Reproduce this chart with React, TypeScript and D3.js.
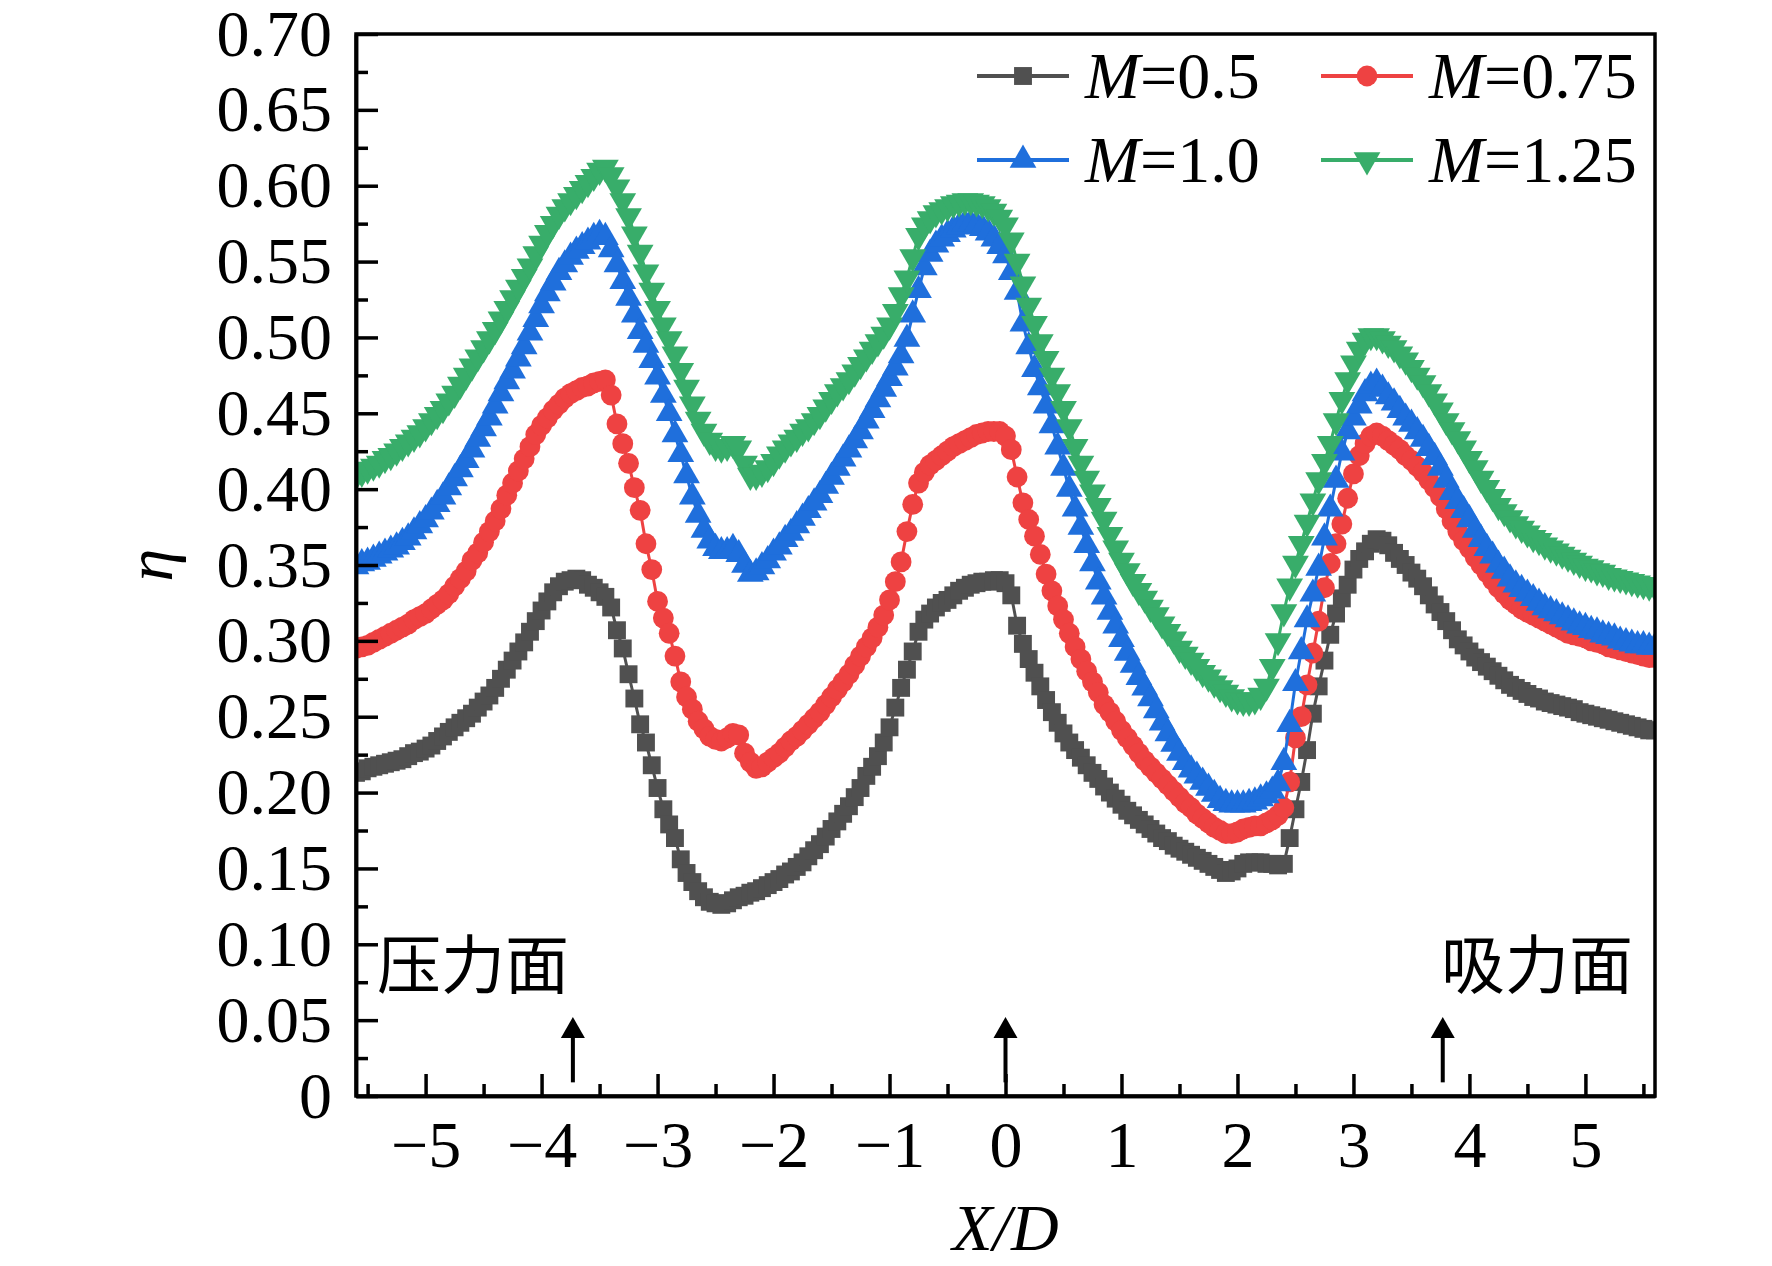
import { useEffect, useRef } from "react";
import * as d3 from "d3";

// X/D stations (one every 0.05)
const xPositions = [
  -5.6, -5.55, -5.5, -5.45, -5.4, -5.35, -5.3, -5.25, -5.2, -5.15,
  -5.1, -5.05, -5, -4.95, -4.9, -4.85, -4.8, -4.75, -4.7, -4.65,
  -4.6, -4.55, -4.5, -4.45, -4.4, -4.35, -4.3, -4.25, -4.2, -4.15,
  -4.1, -4.05, -4, -3.95, -3.9, -3.85, -3.8, -3.75, -3.7, -3.65,
  -3.6, -3.55, -3.5, -3.45, -3.4, -3.35, -3.3, -3.25, -3.2, -3.15,
  -3.1, -3.05, -3, -2.95, -2.9, -2.85, -2.8, -2.75, -2.7, -2.65,
  -2.6, -2.55, -2.5, -2.45, -2.4, -2.35, -2.3, -2.25, -2.2, -2.15,
  -2.1, -2.05, -2, -1.95, -1.9, -1.85, -1.8, -1.75, -1.7, -1.65,
  -1.6, -1.55, -1.5, -1.45, -1.4, -1.35, -1.3, -1.25, -1.2, -1.15,
  -1.1, -1.05, -1, -0.95, -0.9, -0.85, -0.8, -0.75, -0.7, -0.65,
  -0.6, -0.55, -0.5, -0.45, -0.4, -0.35, -0.3, -0.25, -0.2, -0.15,
  -0.1, -0.05, 0, 0.05, 0.1, 0.15, 0.2, 0.25, 0.3, 0.35,
  0.4, 0.45, 0.5, 0.55, 0.6, 0.65, 0.7, 0.75, 0.8, 0.85,
  0.9, 0.95, 1, 1.05, 1.1, 1.15, 1.2, 1.25, 1.3, 1.35,
  1.4, 1.45, 1.5, 1.55, 1.6, 1.65, 1.7, 1.75, 1.8, 1.85,
  1.9, 1.95, 2, 2.05, 2.1, 2.15, 2.2, 2.25, 2.3, 2.35,
  2.4, 2.45, 2.5, 2.55, 2.6, 2.65, 2.7, 2.75, 2.8, 2.85,
  2.9, 2.95, 3, 3.05, 3.1, 3.15, 3.2, 3.25, 3.3, 3.35,
  3.4, 3.45, 3.5, 3.55, 3.6, 3.65, 3.7, 3.75, 3.8, 3.85,
  3.9, 3.95, 4, 4.05, 4.1, 4.15, 4.2, 4.25, 4.3, 4.35,
  4.4, 4.45, 4.5, 4.55, 4.6, 4.65, 4.7, 4.75, 4.8, 4.85,
  4.9, 4.95, 5, 5.05, 5.1, 5.15, 5.2, 5.25, 5.3, 5.35,
  5.4, 5.45, 5.5, 5.55, 5.6,
];

const etaM050 = [
  0.213, 0.214, 0.216, 0.217, 0.218, 0.219, 0.22, 0.221, 0.222, 0.224,
  0.226, 0.227, 0.229, 0.231, 0.234, 0.237, 0.24, 0.243, 0.246, 0.249,
  0.252, 0.256, 0.26, 0.264, 0.269, 0.275, 0.281, 0.287, 0.293, 0.299,
  0.306, 0.313, 0.32, 0.326, 0.332, 0.336, 0.339, 0.34, 0.341, 0.34,
  0.337, 0.335, 0.332, 0.329, 0.322, 0.307, 0.295, 0.278, 0.262, 0.245,
  0.233, 0.218, 0.203, 0.189, 0.179, 0.17, 0.156, 0.147, 0.141, 0.135,
  0.131, 0.128, 0.127, 0.126, 0.127, 0.129, 0.131, 0.132, 0.134, 0.135,
  0.137, 0.139, 0.141, 0.143, 0.146, 0.148, 0.151, 0.154, 0.158, 0.162,
  0.166, 0.171, 0.176, 0.181, 0.186, 0.191, 0.197, 0.203, 0.211, 0.217,
  0.224, 0.233, 0.243, 0.256, 0.269, 0.281, 0.293, 0.306, 0.314, 0.318,
  0.322, 0.325, 0.327, 0.33, 0.333, 0.335, 0.337, 0.338, 0.339, 0.339,
  0.34, 0.34, 0.338, 0.33, 0.31, 0.298, 0.288, 0.279, 0.27, 0.261,
  0.253, 0.246, 0.239, 0.233, 0.228, 0.223, 0.218, 0.213, 0.209, 0.204,
  0.2, 0.196, 0.192, 0.188, 0.185, 0.182, 0.179, 0.176, 0.173, 0.17,
  0.168, 0.165, 0.163, 0.161, 0.159, 0.157, 0.155, 0.153, 0.151, 0.149,
  0.147, 0.148, 0.15, 0.153, 0.154, 0.154, 0.154, 0.153, 0.153, 0.152,
  0.153, 0.17, 0.189, 0.207, 0.228, 0.252, 0.27, 0.287, 0.304, 0.318,
  0.328, 0.337, 0.347, 0.354, 0.359, 0.364, 0.367, 0.366, 0.363, 0.358,
  0.354, 0.35, 0.345, 0.341, 0.336, 0.33, 0.324, 0.319, 0.313, 0.307,
  0.301, 0.297, 0.293, 0.289, 0.286, 0.283, 0.28, 0.277, 0.274, 0.271,
  0.269, 0.267, 0.265, 0.263, 0.262, 0.26, 0.259, 0.258, 0.257, 0.256,
  0.255, 0.253, 0.252, 0.251, 0.25, 0.249, 0.248, 0.247, 0.246, 0.245,
  0.244, 0.243, 0.242, 0.241, 0.241,
];

const etaM075 = [
  0.295, 0.296, 0.297, 0.299, 0.301, 0.303, 0.305, 0.307, 0.309, 0.311,
  0.314, 0.316, 0.318, 0.321, 0.324, 0.327, 0.331, 0.336, 0.341, 0.346,
  0.353, 0.358, 0.365, 0.372, 0.379, 0.387, 0.396, 0.404, 0.412, 0.42,
  0.428, 0.436, 0.442, 0.447, 0.452, 0.456, 0.46, 0.463, 0.465, 0.467,
  0.468, 0.47, 0.471, 0.472, 0.462, 0.443, 0.43, 0.417, 0.401, 0.386,
  0.364, 0.347, 0.326, 0.315, 0.305, 0.29, 0.273, 0.263, 0.255, 0.247,
  0.242, 0.237, 0.235, 0.234, 0.236, 0.239, 0.238, 0.226, 0.22, 0.216,
  0.217, 0.22, 0.223, 0.226, 0.23, 0.234, 0.237, 0.241, 0.245, 0.249,
  0.253, 0.258, 0.263, 0.268, 0.273, 0.278, 0.284, 0.29, 0.296, 0.302,
  0.309, 0.317, 0.327, 0.339, 0.352, 0.372, 0.39, 0.404, 0.411, 0.416,
  0.419, 0.422, 0.425, 0.428, 0.43, 0.432, 0.434, 0.436, 0.437, 0.438,
  0.438, 0.438, 0.435, 0.426, 0.408, 0.391, 0.38, 0.369, 0.357, 0.344,
  0.333, 0.323, 0.314, 0.305, 0.296, 0.288, 0.28, 0.273, 0.266, 0.258,
  0.253, 0.247, 0.241, 0.236, 0.231, 0.226, 0.221, 0.217, 0.213, 0.209,
  0.205, 0.201, 0.197, 0.193, 0.19, 0.186, 0.183, 0.18, 0.177, 0.175,
  0.173, 0.173, 0.174, 0.176, 0.177, 0.178, 0.178, 0.18, 0.182, 0.185,
  0.19, 0.207, 0.236, 0.25, 0.271, 0.292, 0.313, 0.335, 0.351, 0.364,
  0.377, 0.394, 0.41, 0.422, 0.43, 0.435, 0.437, 0.435, 0.432, 0.429,
  0.426, 0.422, 0.419, 0.415, 0.411, 0.406, 0.401, 0.395, 0.387, 0.379,
  0.372, 0.366, 0.361, 0.355, 0.35, 0.345, 0.34, 0.335, 0.331, 0.327,
  0.324, 0.321, 0.319, 0.317, 0.315, 0.313, 0.311, 0.309, 0.307, 0.305,
  0.304, 0.303, 0.302, 0.3, 0.299, 0.298, 0.296, 0.295, 0.294, 0.293,
  0.292, 0.291, 0.29, 0.289, 0.289,
];

const etaM100 = [
  0.349, 0.351, 0.352, 0.354, 0.356, 0.358, 0.36, 0.362, 0.365, 0.368,
  0.372, 0.376, 0.38, 0.385, 0.39, 0.395, 0.401, 0.407, 0.413, 0.419,
  0.426, 0.433, 0.44, 0.447, 0.455, 0.463, 0.471, 0.478, 0.486, 0.494,
  0.503, 0.512, 0.521, 0.529, 0.536, 0.543, 0.548, 0.553, 0.557, 0.56,
  0.563, 0.566, 0.568, 0.566, 0.558, 0.548, 0.537, 0.526, 0.515, 0.504,
  0.495, 0.485, 0.474, 0.462, 0.45, 0.436, 0.423, 0.409, 0.395, 0.383,
  0.373, 0.366, 0.361, 0.359, 0.359, 0.361, 0.357, 0.35, 0.344, 0.345,
  0.349, 0.353, 0.358, 0.362, 0.367, 0.371, 0.376, 0.381, 0.386, 0.391,
  0.396, 0.402, 0.408, 0.414, 0.42, 0.426, 0.432, 0.438, 0.445, 0.452,
  0.459, 0.466, 0.473, 0.48, 0.488, 0.499, 0.515, 0.531, 0.546, 0.555,
  0.561, 0.565, 0.568, 0.571, 0.573, 0.575, 0.575, 0.574, 0.572, 0.569,
  0.565, 0.56, 0.554, 0.543, 0.53, 0.509, 0.494, 0.479, 0.467, 0.455,
  0.442, 0.428, 0.414, 0.4, 0.387, 0.375, 0.363, 0.351, 0.339, 0.329,
  0.319, 0.31, 0.301, 0.292, 0.284, 0.276, 0.269, 0.262, 0.254, 0.246,
  0.239, 0.232, 0.226, 0.22, 0.215, 0.211, 0.207, 0.203, 0.199, 0.195,
  0.193, 0.192, 0.192, 0.192, 0.193, 0.194, 0.196, 0.198, 0.201, 0.206,
  0.22, 0.245, 0.272, 0.293, 0.314, 0.331, 0.348, 0.368, 0.387, 0.406,
  0.424, 0.438, 0.447, 0.455, 0.463, 0.468, 0.47, 0.466, 0.461, 0.457,
  0.452, 0.447, 0.443, 0.438, 0.433, 0.427, 0.421, 0.414, 0.406, 0.398,
  0.392, 0.386, 0.38, 0.373, 0.367, 0.361, 0.356, 0.35, 0.346, 0.341,
  0.337, 0.334, 0.331, 0.328, 0.325, 0.322, 0.32, 0.318, 0.316, 0.314,
  0.312, 0.31, 0.309, 0.307, 0.306, 0.304, 0.303, 0.302, 0.3, 0.299,
  0.298, 0.297, 0.297, 0.296, 0.296,
];

const etaM125 = [
  0.409, 0.411, 0.413, 0.415, 0.417, 0.42, 0.422, 0.425, 0.428, 0.431,
  0.434, 0.437, 0.441, 0.445, 0.449, 0.453, 0.458, 0.463, 0.469, 0.475,
  0.481, 0.487, 0.493, 0.499, 0.505, 0.512, 0.519, 0.526, 0.533, 0.54,
  0.547, 0.555, 0.562, 0.569, 0.575, 0.581, 0.586, 0.59, 0.594, 0.598,
  0.602, 0.606, 0.61, 0.612, 0.607, 0.599, 0.59, 0.58, 0.568, 0.556,
  0.543, 0.531, 0.519, 0.508, 0.499, 0.489, 0.478, 0.467, 0.456, 0.446,
  0.438, 0.432, 0.428, 0.427, 0.428, 0.43, 0.427, 0.417, 0.409, 0.409,
  0.411, 0.414, 0.418, 0.423, 0.427, 0.431, 0.434, 0.438, 0.441, 0.445,
  0.449, 0.454, 0.459, 0.464, 0.468, 0.472, 0.477, 0.482, 0.487, 0.492,
  0.497, 0.502, 0.508, 0.517, 0.528, 0.539, 0.553, 0.567, 0.574, 0.578,
  0.582, 0.584, 0.586, 0.588, 0.589, 0.59, 0.59, 0.589, 0.588, 0.586,
  0.583, 0.579, 0.574, 0.564, 0.55, 0.535, 0.521, 0.509, 0.497, 0.486,
  0.475, 0.464, 0.453, 0.441, 0.428, 0.417, 0.407, 0.398, 0.389, 0.38,
  0.37, 0.361, 0.353, 0.346, 0.339, 0.333, 0.328, 0.322, 0.317, 0.311,
  0.306, 0.301, 0.295, 0.291, 0.287, 0.283, 0.279, 0.276, 0.272, 0.269,
  0.266, 0.263, 0.261, 0.26, 0.26, 0.261, 0.264, 0.27, 0.283, 0.3,
  0.319, 0.336, 0.351, 0.364, 0.378, 0.392, 0.406, 0.418, 0.43, 0.445,
  0.459, 0.472, 0.483, 0.492, 0.498, 0.501, 0.501, 0.499, 0.496, 0.493,
  0.489, 0.485, 0.48, 0.475, 0.47, 0.464, 0.458, 0.452, 0.445, 0.439,
  0.433, 0.427, 0.42, 0.414, 0.407, 0.401, 0.395, 0.389, 0.385, 0.381,
  0.377, 0.374, 0.371, 0.368, 0.366, 0.363, 0.361, 0.359, 0.357, 0.355,
  0.353, 0.351, 0.349, 0.348, 0.346, 0.345, 0.343, 0.342, 0.341, 0.34,
  0.339, 0.338, 0.337, 0.336, 0.336,
];

const blowingRatios = ["0.5", "0.75", "1.0", "1.25"];
const seriesColors = ["#505050", "#ee4242", "#1f6fdc", "#38ad6a"];
const xTicks = [-5, -4, -3, -2, -1, 0, 1, 2, 3, 4, 5];
const yTicks = [0, 0.05, 0.1, 0.15, 0.2, 0.25, 0.3, 0.35, 0.4, 0.45, 0.5, 0.55, 0.6, 0.65, 0.7];
const arrowX = [-3.73, 0, 3.77];
const surfaceLabels = ["压力面", "吸力面"];

const W = 1772;
const H = 1266;
const FONT = "'Liberation Serif', 'Times New Roman', serif";

export default function App() {
  const svgRef = useRef<SVGSVGElement>(null);

  useEffect(() => {
    if (!svgRef.current) return;
    const svg = d3.select(svgRef.current);
    svg.selectAll("*").remove();

    const left = 356;
    const right = 1655;
    const top = 34;
    const bottom = 1096;

    const x = d3.scaleLinear().domain([-5.6, 5.6]).range([left, right]);
    const y = d3.scaleLinear().domain([0, 0.7]).range([bottom, top]);

    svg
      .append("defs")
      .append("clipPath")
      .attr("id", "plot-clip")
      .append("rect")
      .attr("x", left)
      .attr("y", top)
      .attr("width", right - left)
      .attr("height", bottom - top);

    const series = [etaM050, etaM075, etaM100, etaM125];
    const symbols = [
      d3.symbol().type(d3.symbolSquare).size(320),
      d3.symbol().type(d3.symbolCircle).size(340),
      d3.symbol().type(d3.symbolTriangle).size(310),
      d3.symbol().type(d3.symbolTriangle).size(310),
    ];
    const rotations = [0, 0, 0, 180];

    const line = d3
      .line<number>()
      .x((_, i) => x(xPositions[i]))
      .y((d) => y(d));

    const plot = svg.append("g").attr("clip-path", "url(#plot-clip)");

    series.forEach((vals, si) => {
      const g = plot.append("g");
      g.append("path")
        .datum(vals)
        .attr("fill", "none")
        .attr("stroke", seriesColors[si])
        .attr("stroke-width", 3)
        .attr("d", line);
      g.selectAll("path.pt")
        .data(vals)
        .enter()
        .append("path")
        .attr("class", "pt")
        .attr("d", symbols[si]() as string)
        .attr("fill", seriesColors[si])
        .attr(
          "transform",
          (d, i) =>
            `translate(${x(xPositions[i])},${y(d)}) rotate(${rotations[si]})`
        );
    });

    // axes
    const minorX = d3.range(-5.5, 5.6, 1);
    const minorY = d3.range(0.025, 0.7, 0.05);

    const xAxis = svg
      .append("g")
      .attr("transform", `translate(0,${bottom})`)
      .call(
        d3
          .axisBottom(x)
          .tickValues(xTicks)
          .tickSize(-22)
          .tickSizeOuter(0)
          .tickPadding(24)
      );
    svg
      .append("g")
      .attr("transform", `translate(0,${bottom})`)
      .call(
        d3
          .axisBottom(x)
          .tickValues(minorX)
          .tickSize(-12)
          .tickSizeOuter(0)
          .tickFormat(() => "")
      );

    const yAxis = svg
      .append("g")
      .attr("transform", `translate(${left},0)`)
      .call(
        d3
          .axisLeft(y)
          .tickValues(yTicks)
          .tickSize(-22)
          .tickSizeOuter(0)
          .tickPadding(24)
          .tickFormat((d) => (+d === 0 ? "0" : d3.format(".2f")(+d)))
      );
    svg
      .append("g")
      .attr("transform", `translate(${left},0)`)
      .call(
        d3
          .axisLeft(y)
          .tickValues(minorY)
          .tickSize(-12)
          .tickSizeOuter(0)
          .tickFormat(() => "")
      );

    svg
      .selectAll(".tick line, .domain")
      .attr("stroke", "#000")
      .attr("stroke-width", 3.5);

    [xAxis, yAxis].forEach((a) =>
      a
        .selectAll("text")
        .attr("fill", "#000")
        .style("font-family", FONT)
        .style("font-size", "66px")
    );

    svg
      .append("rect")
      .attr("x", left)
      .attr("y", top)
      .attr("width", right - left)
      .attr("height", bottom - top)
      .attr("fill", "none")
      .attr("stroke", "#000")
      .attr("stroke-width", 3.5);

    // axis titles
    svg
      .append("text")
      .attr("x", (left + right) / 2)
      .attr("y", 1250)
      .attr("text-anchor", "middle")
      .style("font-family", FONT)
      .style("font-size", "66px")
      .style("font-style", "italic")
      .text("X/D");

    svg
      .append("text")
      .attr("transform", `translate(172,${(top + bottom) / 2}) rotate(-90)`)
      .attr("text-anchor", "middle")
      .style("font-family", FONT)
      .style("font-size", "66px")
      .style("font-style", "italic")
      .text("η");

    // arrows marking surface stations
    arrowX.forEach((ax) => {
      const cx = x(ax);
      const tip = y(0.052);
      svg
        .append("line")
        .attr("x1", cx)
        .attr("x2", cx)
        .attr("y1", y(0.009))
        .attr("y2", tip + 16)
        .attr("stroke", "#000")
        .attr("stroke-width", 4);
      svg
        .append("path")
        .attr("d", `M${cx},${tip} L${cx - 12},${tip + 21} L${cx + 12},${tip + 21} Z`)
        .attr("fill", "#000");
    });

    svg
      .append("text")
      .attr("x", left + 21)
      .attr("y", 960)
      .attr("dominant-baseline", "central")
      .style("font-family", "'Noto Sans CJK SC', sans-serif")
      .style("font-size", "64px")
      .text(surfaceLabels[0]);
    svg
      .append("text")
      .attr("x", right - 22)
      .attr("y", 960)
      .attr("text-anchor", "end")
      .attr("dominant-baseline", "central")
      .style("font-family", "'Noto Sans CJK SC', sans-serif")
      .style("font-size", "64px")
      .text(surfaceLabels[1]);

    // legend
    const legendPos = [
      [977, 76],
      [1321, 76],
      [977, 160],
      [1321, 160],
    ];
    blowingRatios.forEach((label, si) => {
      const [lx, ly] = legendPos[si];
      const g = svg.append("g").attr("transform", `translate(${lx},${ly})`);
      g.append("line")
        .attr("x1", 0)
        .attr("x2", 92)
        .attr("y1", 0)
        .attr("y2", 0)
        .attr("stroke", seriesColors[si])
        .attr("stroke-width", 4);
      g.append("path")
        .attr("d", symbols[si]() as string)
        .attr("fill", seriesColors[si])
        .attr("transform", `translate(46,0) rotate(${rotations[si]})`);
      const t = g
        .append("text")
        .attr("x", 108)
        .attr("y", 22)
        .style("font-family", FONT)
        .style("font-size", "66px");
      t.append("tspan").style("font-style", "italic").text("M");
      t.append("tspan").text(`=${label}`);
    });
  }, []);

  return (
    <svg
      ref={svgRef}
      width={W}
      height={H}
      viewBox={`0 0 ${W} ${H}`}
      style={{ position: "absolute", left: 0, top: 0, background: "#fff" }}
    />
  );
}
